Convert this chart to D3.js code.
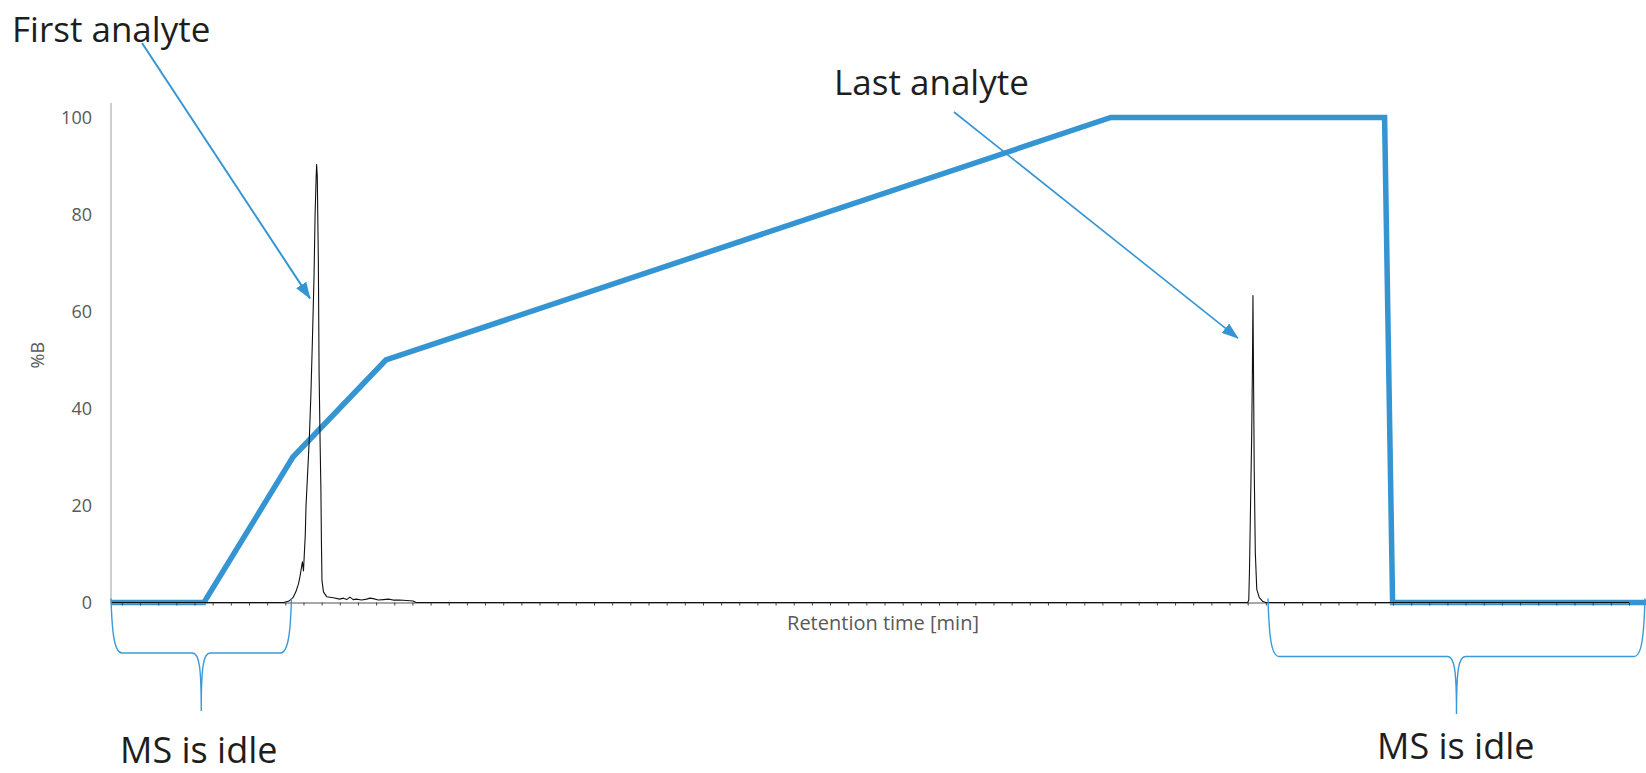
<!DOCTYPE html>
<html>
<head>
<meta charset="utf-8">
<script src="https://cdn.jsdelivr.net/npm/d3@7"></script>
<style>
  html, body { margin: 0; padding: 0; background: #ffffff; }
  svg { display: block; font-family: "Open Sans", "Noto Sans", sans-serif; }
</style>
</head>
<body>
<svg id="chart" width="1646" height="773"></svg>
<script>
// Solvent gradient program: time [min] vs %B
const gradTime = [0.2, 2.76, 5.21, 7.77, 27.73, 35.27, 35.49, 42.7];
const gradB    = [0,   0,    30,   50,   100,   100,   0,     0];

// Chromatogram trace (normalised signal) vs retention time [min]
const chromTime = [
  0.2, 4.96, 5.10, 5.21, 5.29, 5.36, 5.40, 5.44, 5.47, 5.49, 5.50, 5.52,
  5.55, 5.57, 5.61, 5.66, 5.705, 5.746, 5.79, 5.82, 5.85, 5.862, 5.88, 5.91,
  5.93, 5.96, 5.98, 5.995, 6.01, 6.05, 6.14, 6.32, 6.50, 6.60, 6.69, 6.78,
  6.87, 6.96, 7.10, 7.24, 7.33, 7.42, 7.56, 7.70, 7.84, 7.97, 8.15, 8.52,
  8.60, 31.50, 31.53, 31.55, 31.58, 31.61, 31.63, 31.645, 31.66, 31.68,
  31.71, 31.75, 31.82, 31.87, 31.92, 32.0, 42.0
];
const chromSignal = [
  0, 0, 0.3, 1.0, 2.2, 3.8, 5.2, 7.0, 8.4, 7.2, 6.5, 9.5,
  14, 19.9, 26, 33.6, 43, 54, 67, 80, 88, 90.3, 88, 70,
  47.4, 32, 23.3, 12, 4.5, 2.2, 1.2, 0.97, 0.7, 0.9, 0.6, 1.1,
  0.6, 0.7, 0.5, 0.7, 0.9, 0.8, 0.5, 0.6, 0.7, 0.5, 0.5, 0.3,
  0, 0, 0.5, 6.8, 20.6, 34.3, 48, 63.3, 48, 27.4,
  10.3, 2.7, 1.0, 0.6, 0.2, 0, 0
];

// Y-axis tick labels
const yTicks = [0, 20, 40, 60, 80, 100];

// Annotations
const peakNotes = [
  { label: "First analyte", tipTime: 5.68,  tipB: 62.7 },
  { label: "Last analyte",  tipTime: 31.23, tipB: 54.5 }
];
const idleWindows = [[0.2, 5.17], [32.06, 42.44]];
const idleLabel = "MS is idle";

const svg = d3.select("#chart");
const blue = "#3595d2";

const x = d3.scaleLinear().domain([0.2, 42]).range([111, 1629]);
const y = d3.scaleLinear().domain([0, 100]).range([602.5, 117.5]);

// arrowhead marker
svg.append("defs").append("marker")
  .attr("id", "arrowHead")
  .attr("markerUnits", "userSpaceOnUse")
  .attr("markerWidth", 17).attr("markerHeight", 12)
  .attr("refX", 16).attr("refY", 6)
  .attr("orient", "auto")
  .append("path").attr("d", "M0,0 L17,6 L0,12 Z").attr("fill", blue);

// y axis (labels only, plain grey spine)
const yAxis = svg.append("g")
  .attr("transform", `translate(${x(0.2)},0)`)
  .call(d3.axisLeft(y).tickValues(yTicks).tickSize(0).tickPadding(19));
yAxis.select(".domain").remove();
yAxis.selectAll("text")
  .attr("fill", "#595959")
  .style("font-size", "18px")
  .style("font-family", "'Open Sans', sans-serif");
svg.append("line")
  .attr("x1", x(0.2)).attr("x2", x(0.2))
  .attr("y1", y(103)).attr("y2", y(0))
  .attr("stroke", "#bfbfbf").attr("stroke-width", 1.5);

svg.append("text")
  .attr("transform", `translate(44,${y(51)}) rotate(-90)`)
  .attr("text-anchor", "middle")
  .attr("fill", "#595959")
  .style("font-size", "18px")
  .text("%B");

// gradient line
const gradLine = d3.line().x(d => x(d[0])).y(d => y(d[1]));
svg.append("path")
  .datum(d3.zip(gradTime, gradB))
  .attr("d", gradLine)
  .attr("fill", "none")
  .attr("stroke", blue)
  .attr("stroke-width", 5.5)
  .attr("stroke-linejoin", "miter");

// x axis with minor ticks, no labels
const xAxis = svg.append("g")
  .attr("transform", `translate(0,${y(0)})`)
  .call(d3.axisBottom(x)
    .tickValues(d3.range(0.5, 42.01, 0.5))
    .tickSize(3).tickSizeOuter(0).tickFormat(""));
xAxis.select(".domain").attr("stroke", "#8c8c8c").attr("stroke-width", 1.5);
xAxis.selectAll(".tick line").attr("stroke", "#404040").attr("stroke-width", 1);

// chromatogram
const chromLine = d3.line().x(d => x(d[0])).y(d => y(d[1]));
svg.append("path")
  .datum(d3.zip(chromTime, chromSignal))
  .attr("d", chromLine)
  .attr("fill", "none")
  .attr("stroke", "#111111")
  .attr("stroke-width", 1.1)
  .attr("stroke-linejoin", "round");

svg.append("text")
  .attr("x", 883).attr("y", 630)
  .attr("text-anchor", "middle")
  .attr("fill", "#595959")
  .style("font-size", "20px")
  .text("Retention time [min]");

// peak annotations
const noteText = [
  { x: 12,  y: 42, sx: 142, sy: 43,  w: 2 },
  { x: 834, y: 95, sx: 954, sy: 112, w: 1.6 }
];
peakNotes.forEach((n, i) => {
  const p = noteText[i];
  svg.append("text")
    .attr("x", p.x).attr("y", p.y)
    .attr("fill", "#1e1e1e")
    .style("font-size", "35px")
    .text(n.label);
  svg.append("line")
    .attr("x1", p.sx).attr("y1", p.sy)
    .attr("x2", x(n.tipTime)).attr("y2", y(n.tipB))
    .attr("stroke", blue).attr("stroke-width", p.w)
    .attr("marker-end", "url(#arrowHead)");
});

// idle-time braces
function bracePath(xa, xb, yEnd, ym, yt) {
  const xc = (xa + xb) / 2;
  return `M${xa},${yEnd} C${xa + 1},${ym - 22} ${xa + 3},${ym} ${xa + 11},${ym}` +
         ` L${xc - 9},${ym} C${xc - 2},${ym} ${xc},${ym + 14} ${xc},${yt}` +
         ` M${xb},${yEnd} C${xb - 1},${ym - 22} ${xb - 3},${ym} ${xb - 11},${ym}` +
         ` L${xc + 9},${ym} C${xc + 2},${ym} ${xc},${ym + 14} ${xc},${yt}`;
}
const idleText = [
  { x: 120, y: 763 },
  { x: 1377, y: 759 }
];
idleWindows.forEach((w, i) => {
  const ym = i === 0 ? 653 : 656.5;
  const yt = i === 0 ? 711 : 714;
  svg.append("path")
    .attr("d", bracePath(x(w[0]), x(w[1]), y(0) - 4, ym, yt))
    .attr("fill", "none")
    .attr("stroke", "#3a9ad9")
    .attr("stroke-width", 1.4);
  svg.append("text")
    .attr("x", idleText[i].x).attr("y", idleText[i].y)
    .attr("fill", "#1e1e1e")
    .style("font-size", "36px")
    .text(idleLabel);
});
</script>
</body>
</html>
